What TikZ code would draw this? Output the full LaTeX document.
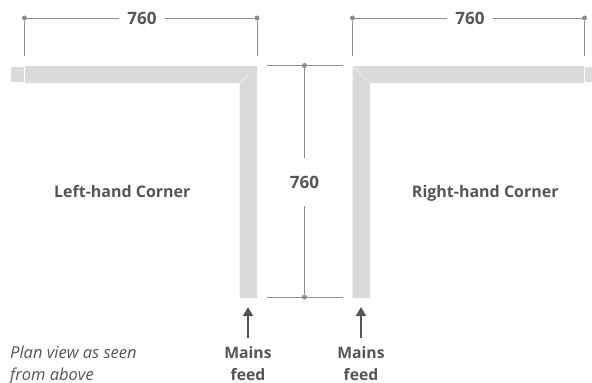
\documentclass[tikz,border=0pt]{standalone}
\usepackage{fontspec}
\setmainfont{Open Sans}
\usetikzlibrary{arrows.meta}
\definecolor{panelgrey}{HTML}{DADADA}
\definecolor{dimgrey}{HTML}{8C8C8C}
\definecolor{textgrey}{HTML}{555555}
\newcommand\nd{17}

\begin{document}
\begin{tikzpicture}[x=1pt,y=-1pt,
		panel/.style={fill=panelgrey,draw=none},
		dimdot/.style={circle,fill=dimgrey,draw=none,inner sep=0pt,minimum size=5pt},
		dimline/.style={draw=dimgrey,line width=0.9pt},
		dimtext/.style={text=textgrey,font=\fontsize{\nd}{18}\selectfont\bfseries,fill=white,inner sep=0pt},
		title/.style={text=textgrey,font=\fontsize{16}{18}\selectfont\bfseries,anchor=base,inner sep=0pt},
		feedtext/.style={text=textgrey,font=\fontsize{15.7}{22}\selectfont\bfseries,align=center,anchor=base,inner sep=0pt},
		feedarrow/.style={draw=textgrey,line width=1.8pt,-{Triangle[length=9pt,width=10pt]}}
	]
	\useasboundingbox (0,0) rectangle (592,383);

	% left-hand panels
	\fill[panel] (11,67) rectangle (24,82);
	\fill[panel] (25,66) -- (257,66) -- (239,83) -- (25,83) -- cycle;
	\fill[panel] (257,66) -- (257,298) -- (239.5,298) -- (239.5,83.5) -- cycle;

	% right-hand panels
	\fill[panel] (585,67) rectangle (592,82);
	\fill[panel] (584,66) -- (353,66) -- (370,83) -- (584,83) -- cycle;
	\fill[panel] (352.5,66.5) -- (352.5,298) -- (370,298) -- (370,83.5) -- cycle;

	% left dimension
	\node [dimdot] (l0) at (24.5,18) {};
	\node [dimdot] (l1) at (257,18) {};
	\coordinate (l2) at (24.5,56);
	\coordinate (l3) at (257,56);
	\node [dimtext,minimum width=46pt] (l4) at (142,18.8) {760\hspace{3pt}};
	\draw[dimline] (l0)--(l4.west|-l0);
	\draw[dimline] (l4.east|-l1)--(l1);
	\draw[dimline] (l0)--(l2);
	\draw[dimline] (l1)--(l3);

	% right dimension
	\node [dimdot] (r0) at (352.5,18) {};
	\node [dimdot] (r1) at (584.5,18) {};
	\coordinate (r2) at (352.5,56);
	\coordinate (r3) at (584.5,56);
	\node [dimtext,minimum width=46pt] (r4) at (470,18.8) {760\hspace{3pt}};
	\draw[dimline] (r0)--(r4.west|-r0);
	\draw[dimline] (r4.east|-r1)--(r1);
	\draw[dimline] (r0)--(r2);
	\draw[dimline] (r1)--(r3);

	% centre dimension
	\node [dimdot] (c0) at (304.5,65.5) {};
	\node [dimdot] (c1) at (304.5,297) {};
	\coordinate (c2) at (267,65.5);
	\coordinate (c3) at (343,65.5);
	\coordinate (c4) at (267,297);
	\coordinate (c5) at (343,297);
	\node [dimtext,minimum height=47pt] (c6) at (304.5,182) {760};
	\draw[dimline] (c0)--(c6);
	\draw[dimline] (c6)--(c1);
	\draw[dimline] (c2)--(c3);
	\draw[dimline] (c4)--(c5);

	% labels
	\node [title] (t0) at (122.3,197.7) {Left-hand Corner};
	\node [title] (t1) at (485.3,197.7) {Right-hand Corner};
	\node [text=textgrey,font=\fontsize{16.5}{22}\selectfont\itshape,align=left,anchor=base west,inner sep=0pt] (t2) at (10,380.3) {Plan view as seen\\from above};

	% mains feeds
	\node [feedtext] (f0) at (248,380.3) {Mains\\feed};
	\node [feedtext] (f1) at (361,380.3) {Mains\\feed};
	\coordinate (a0) at (248,338);
	\coordinate (a1) at (248,307);
	\coordinate (a2) at (361,338);
	\coordinate (a3) at (361,307);
	\draw[feedarrow] (a0)--(a1);
	\draw[feedarrow] (a2)--(a3);
\end{tikzpicture}
\end{document}
